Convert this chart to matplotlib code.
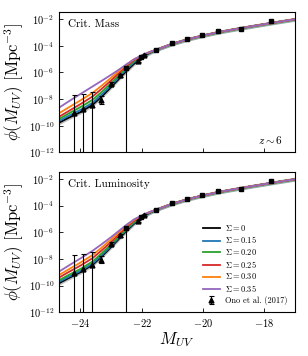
import numpy as np
import matplotlib
matplotlib.use('Agg')
import matplotlib.pyplot as plt

plt.rcParams['font.family'] = 'cmr10'
plt.rcParams['mathtext.fontset'] = 'cm'
plt.rcParams['axes.formatter.use_mathtext'] = True
plt.rcParams['axes.unicode_minus'] = True

# magnitude grid the model curves were read at
m_grid = [-24.7, -24.4, -24.0, -23.6, -23.3, -23.0, -22.75, -22.5, -22.25, -22.0, -21.75,
          -21.5, -21.0, -20.5, -20.0, -19.5, -19.0, -18.5, -18.0, -17.5, -17.0]
# faint end (from -21.5), all models agree there
faint_tail = [-4.28, -3.86, -3.52, -3.24, -2.99, -2.78, -2.58, -2.39, -2.20, -2.02]

sigmas = ['0', '0.15', '0.20', '0.25', '0.30', '0.35']
colors = ['k', '#1f77b4', '#2ca02c', '#d62728', '#ff7f0e', '#9467bd']

# log10 phi, bright part (first 11 grid points)
mass_bright = [
    [-9.78, -9.42, -8.98, -8.42, -7.80, -7.10, -6.50, -5.90, -5.35, -4.88, -4.55],
    [-9.65, -9.28, -8.82, -8.28, -7.65, -6.98, -6.38, -5.77, -5.24, -4.84, -4.53],
    [-9.50, -9.10, -8.60, -8.05, -7.45, -6.80, -6.22, -5.65, -5.16, -4.80, -4.51],
    [-9.33, -8.92, -8.38, -7.80, -7.22, -6.60, -6.06, -5.53, -5.08, -4.77, -4.49],
    [-9.07, -8.65, -8.10, -7.53, -6.98, -6.40, -5.90, -5.42, -5.01, -4.74, -4.48],
    [-8.65, -8.20, -7.62, -7.05, -6.62, -6.18, -5.80, -5.40, -5.02, -4.72, -4.47],
]
lum_bright = [
    [-9.82, -9.45, -8.99, -8.43, -7.80, -7.10, -6.50, -5.90, -5.35, -4.88, -4.55],
    [-9.72, -9.36, -8.90, -8.34, -7.70, -7.02, -6.42, -5.82, -5.29, -4.86, -4.54],
    [-9.60, -9.22, -8.75, -8.18, -7.56, -6.90, -6.32, -5.74, -5.23, -4.83, -4.52],
    [-9.40, -9.00, -8.50, -7.93, -7.34, -6.72, -6.17, -5.62, -5.14, -4.79, -4.50],
    [-9.20, -8.80, -8.27, -7.70, -7.13, -6.53, -6.02, -5.51, -5.07, -4.76, -4.49],
    [-8.95, -8.52, -7.96, -7.38, -6.88, -6.36, -5.90, -5.44, -5.03, -4.74, -4.48],
]
band_dex = [0.15, 0.12, 0.12, 0, 0, 0]

# Ono et al. (2017) points
ono_m = [-24.22, -23.92, -23.62, -23.32, -23.02, -22.72, -22.12, -21.92]
ono_log = [-9.07, -8.77, -8.45, -8.10, -6.85, -6.22, -5.15, -4.72]
ono_up = [1.37, 1.14, 1.00, 0.30, 0.10, 0.10, 0.08, 0.08]
ono_dn = [9.0, 9.0, 9.0, 0.24, 0.12, 0.12, 0.08, 0.08]

# faint-end points
sq_m = [-22.52, -22.02, -21.52, -21.02, -20.52, -20.02, -19.52, -18.77, -17.77]
sq_log = [-5.70, -4.83, -4.30, -3.80, -3.50, -3.20, -2.92, -2.74, -2.18]
sq_dn = [9.0, 0.15, 0.1, 0.06, 0.05, 0.04, 0.05, 0.05, 0.1]


def draw(ax, bright, title, legend=False):
    m = np.array(m_grid)
    for i in range(len(sigmas)):
        logphi = np.array(bright[i] + faint_tail)
        if band_dex[i] > 0:
            ax.fill_between(m, 10**(logphi - band_dex[i]), 10**(logphi + band_dex[i]),
                            color=colors[i], alpha=0.25, lw=0)
    for i in range(len(sigmas)):
        logphi = np.array(bright[i] + faint_tail)
        ax.plot(m, 10**logphi, color=colors[i], lw=1.3,
                label=r'$\Sigma = %s$' % sigmas[i])
    y = 10**np.array(ono_log)
    err = [y - 10**(np.array(ono_log) - np.array(ono_dn)),
           10**(np.array(ono_log) + np.array(ono_up)) - y]
    ax.errorbar(ono_m, y, yerr=err, fmt='^', color='k', ms=3.5,
                elinewidth=0.8, capsize=1.8, capthick=0.8, label='Ono et al. (2017)')
    ys = 10**np.array(sq_log)
    errs = [ys - 10**(np.array(sq_log) - np.array(sq_dn)), np.zeros(len(sq_log))]
    ax.errorbar(sq_m, ys, yerr=errs, fmt='s', color='k', ms=2.3,
                elinewidth=0.8, capsize=0)
    ax.set_yscale('log')
    ax.set_xlim(-24.7, -17.0)
    ax.set_ylim(1e-12, 10**-1.5)
    ax.set_yticks([1e-12, 1e-10, 1e-8, 1e-6, 1e-4, 1e-2])
    ax.minorticks_off()
    ax.set_xticks([-24, -22, -20, -18])
    ax.tick_params(direction='in', labelsize=7.5, length=3, width=0.6)
    ax.set_ylabel(r'$\phi(M_{UV})$ [Mpc$^{-3}$]', fontsize=12, labelpad=2)
    ax.text(0.04, 0.915, title, transform=ax.transAxes, fontsize=8,
            ha='left', va='center')
    for s in ax.spines.values():
        s.set_linewidth(0.8)
    if legend:
        ax.legend(loc='lower right', fontsize=6, frameon=False,
                  handlelength=2.1, handletextpad=0.6, labelspacing=0.2,
                  bbox_to_anchor=(1.0, 0.0))


fig = plt.figure(figsize=(3.08, 3.56), dpi=100)
ax1 = fig.add_axes([0.1916, 0.572, 0.7664, 0.3933])
ax2 = fig.add_axes([0.1916, 0.1228, 0.7664, 0.3933])

draw(ax1, mass_bright, 'Crit. Mass')
ax1.set_xticklabels([])
ax1.text(0.95, 0.088, r'$z \sim 6$', transform=ax1.transAxes, fontsize=8,
         ha='right', va='center')
draw(ax2, lum_bright, 'Crit. Luminosity', legend=True)
ax2.set_xlabel(r'$M_{UV}$', fontsize=12, labelpad=1)

fig.savefig('out.png', dpi=100)
